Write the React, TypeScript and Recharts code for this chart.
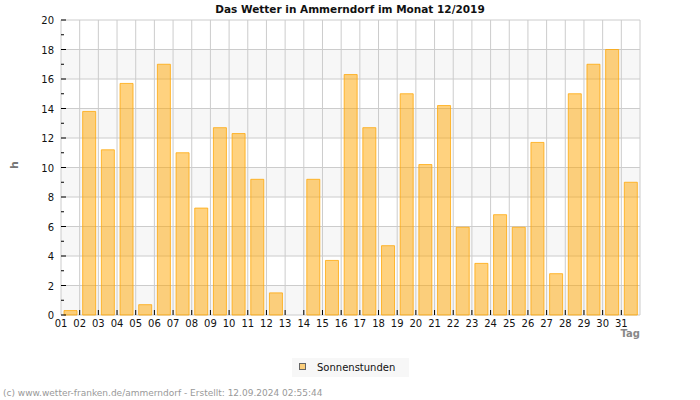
import React from 'react';
import { BarChart, Bar, XAxis, YAxis, CartesianGrid } from 'recharts';

const days = ['01','02','03','04','05','06','07','08','09','10','11','12','13','14','15','16','17','18','19','20','21','22','23','24','25','26','27','28','29','30','31'];
const sunHours = [0.3, 13.8, 11.2, 15.7, 0.7, 17.0, 11.0, 7.25, 12.7, 12.3, 9.2, 1.5, 0, 9.2, 3.7, 16.3, 12.7, 4.7, 15.0, 10.2, 14.2, 5.95, 3.5, 6.8, 5.95, 11.7, 2.8, 15.0, 17.0, 18.0, 9.0];
const xTicks = [1,2,3,4,5,6,7,8,9,10,11,12,13,14,15,16,17,18,19,20,21,22,23,24,25,26,27,28,29,30,31,32];
const yTicks = [0,1,2,3,4,5,6,7,8,9,10,11,12,13,14,15,16,17,18,19,20];
const yMajor = [0,2,4,6,8,10,12,14,16,18,20];
const title = 'Das Wetter in Ammerndorf im Monat 12/2019';
const seriesName = 'Sonnenstunden';
const yLabel = 'h';
const xLabel = 'Tag';
const footer = '(c) www.wetter-franken.de/ammerndorf - Erstellt: 12.09.2024 02:55:44';

const data = days.map((d, i) => ({ pos: i + 1.5, day: d, value: sunHours[i] }));

const FONT = '"DejaVu Sans", sans-serif';

const XTick = (props: any) => {
  const { x, y, payload } = props;
  const v = payload.value as number;
  const label = v >= 1 && v <= days.length ? days[v - 1] : '';
  const inner = v > 1 && v < 32;
  return (
    <g>
      {inner && <line x1={x} x2={x} y1={y} y2={y - 5} stroke="#000" />}
      {label && (
        <text x={x} y={y + 12} textAnchor="middle" fontFamily={FONT} fontSize={10} fill="#111">
          {label}
        </text>
      )}
    </g>
  );
};

const YTick = (props: any) => {
  const { x, y, payload } = props;
  const v = payload.value as number;
  const major = v % 2 === 0;
  return (
    <g>
      <line x1={x} x2={x + (major ? 5 : 3)} y1={y} y2={y} stroke="#000" />
      {major && (
        <text x={x - 7} y={y + 4} textAnchor="end" fontFamily={FONT} fontSize={10} fill="#111">
          {v}
        </text>
      )}
    </g>
  );
};

export default function App() {
  return (
    <div style={{ position: 'absolute', left: 0, top: 0, width: 700, height: 400, background: '#fff', fontFamily: FONT }}>
      <BarChart width={700} height={400} data={data} margin={{ top: 20, right: 60, bottom: 65, left: 0 }}>
        <CartesianGrid
          stroke="#cccccc"
          horizontalValues={yMajor}
          horizontalFill={['#ffffff', '#f7f7f7']}
          fillOpacity={1}
        />
        <XAxis
          type="number"
          dataKey="pos"
          domain={[1, 32]}
          ticks={xTicks}
          interval={0}
          height={20}
          tickSize={0}
          tickMargin={0}
          tickLine={false}
          axisLine={false}
          tick={<XTick />}
        />
        <YAxis
          type="number"
          domain={[0, 20]}
          ticks={yTicks}
          interval={0}
          width={61}
          tickSize={0}
          tickMargin={0}
          tickLine={false}
          axisLine={false}
          tick={<YTick />}
        />
        <Bar
          dataKey="value"
          name={seriesName}
          barSize={13}
          fill="#FFA500"
          fillOpacity={0.5}
          stroke="#FFA500"
          strokeOpacity={0.75}
          isAnimationActive={false}
        />
      </BarChart>
      <svg width={700} height={400} style={{ position: 'absolute', left: 0, top: 0, pointerEvents: 'none' }}>
        <text x={350} y={13} textAnchor="middle" fontFamily={FONT} fontWeight="bold" fontSize={10.5} fill="#111">
          {title}
        </text>
        <text x={18} y={165} textAnchor="middle" fontFamily={FONT} fontWeight="bold" fontSize={11} fill="#777" transform="rotate(-90 18 165)">
          {yLabel}
        </text>
        <text x={640} y={337} textAnchor="end" fontFamily={FONT} fontWeight="bold" fontSize={10} fill="#888">
          {xLabel}
        </text>
        <rect x={292} y={358} width={117} height={19} fill="#f7f7f7" />
        <rect x={299.5} y={363.5} width={6} height={6} fill="#FFA500" fillOpacity={0.5} stroke="#666" />
        <text x={317} y={371} fontFamily={FONT} fontSize={10} fill="#111">
          {seriesName}
        </text>
        <text x={3} y={396} fontFamily={FONT} fontSize={9} fill="#999">
          {footer}
        </text>
      </svg>
    </div>
  );
}
